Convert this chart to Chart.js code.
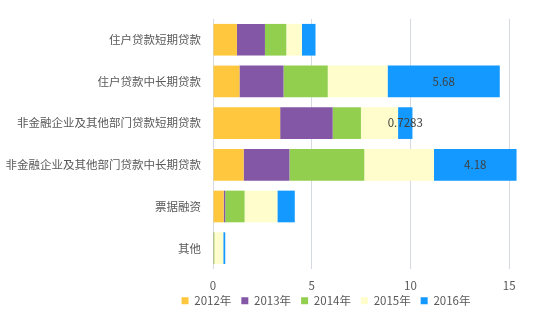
<!DOCTYPE html>
<html>
<head>
<meta charset="utf-8">
<script src="https://cdn.jsdelivr.net/npm/chart.js@4/dist/chart.umd.min.js"></script>
<style>
  html, body { margin: 0; padding: 0; background: #fff; }
  #wrap { width: 550px; height: 326px; }
</style>
</head>
<body>
<div id="wrap"><canvas id="myChart"></canvas></div>
<script>
const categories = ['住户贷款短期贷款', '住户贷款中长期贷款', '非金融企业及其他部门贷款短期贷款',
  '非金融企业及其他部门贷款中长期贷款', '票据融资', '其他'];
const years = ['2012年', '2013年', '2014年', '2015年', '2016年'];
const v2012 = [1.21, 1.34, 3.40, 1.55, 0.54, 0.02];
const v2013 = [1.42, 2.23, 2.66, 2.32, 0.08, 0.01];
const v2014 = [1.08, 2.24, 1.43, 3.79, 0.98, 0.04];
const v2015 = [0.79, 3.03, 1.88, 3.53, 1.66, 0.45];
const v2016 = [0.69, 5.68, 0.7283, 4.18, 0.88, 0.10];
const labels2016 = [null, '5.68', '0.7283', '4.18', null, null];
const xTicks = [0, 5, 10, 15];

const colors = ['#FFC73D', '#8457A6', '#92CF4F', '#FEFDCB', '#1399FF'];
const font = { family: "'Noto Sans CJK SC', 'Noto Sans', sans-serif", size: 11.5 };

// labels in the middle of the 2016 bars
const barLabels = {
  id: 'barLabels',
  afterDatasetsDraw(chart) {
    const ctx = chart.ctx;
    const meta = chart.getDatasetMeta(4);
    ctx.save();
    ctx.font = font.size + 'px ' + font.family;
    ctx.fillStyle = '#404040';
    ctx.textAlign = 'center';
    ctx.textBaseline = 'middle';
    meta.data.forEach(function (bar, i) {
      if (labels2016[i]) {
        ctx.fillText(labels2016[i], (bar.x + bar.base) / 2, bar.y);
      }
    });
    ctx.restore();
  }
};

// legend sits a bit right of the canvas centre and close under the ticks in the original
const legendShift = {
  id: 'legendShift',
  afterLayout(chart) {
    chart.legend.left += 59;
    chart.legend.right += 59;
    chart.legend.top -= 8;
    chart.legend.bottom -= 8;
  }
};

const vals = [v2012, v2013, v2014, v2015, v2016];

new Chart(document.getElementById('myChart'), {
  type: 'bar',
  data: {
    labels: categories,
    datasets: years.map(function (y, i) {
      return {
        label: y,
        data: vals[i],
        backgroundColor: colors[i],
        borderWidth: 0,
        categoryPercentage: 0.76,
        barPercentage: 1
      };
    })
  },
  options: {
    indexAxis: 'y',
    responsive: true,
    maintainAspectRatio: false,
    animation: false,
    layout: { padding: { top: 17, left: 5, right: 21, bottom: 1.5 } },
    scales: {
      x: {
        stacked: true,
        min: 0,
        max: 16,
        afterBuildTicks(scale) {
          scale.ticks = xTicks.map(function (v) { return { value: v }; });
        },
        afterFit(scale) { scale.height = 24; },
        grid: { color: '#D5DAE2', drawTicks: false },
        border: { display: false },
        ticks: { font: font, color: '#595959', padding: 10 }
      },
      y: {
        stacked: true,
        afterFit(scale) { scale.width = 208; },
        grid: { display: false, drawTicks: false },
        border: { display: false },
        ticks: { font: font, color: '#595959', padding: 12 }
      }
    },
    plugins: {
      legend: {
        position: 'bottom',
        labels: {
          font: font,
          color: '#595959',
          boxWidth: 7,
          boxHeight: 7,
          padding: 10
        }
      },
      tooltip: { enabled: false }
    }
  },
  plugins: [barLabels, legendShift]
});
</script>
</body>
</html>
